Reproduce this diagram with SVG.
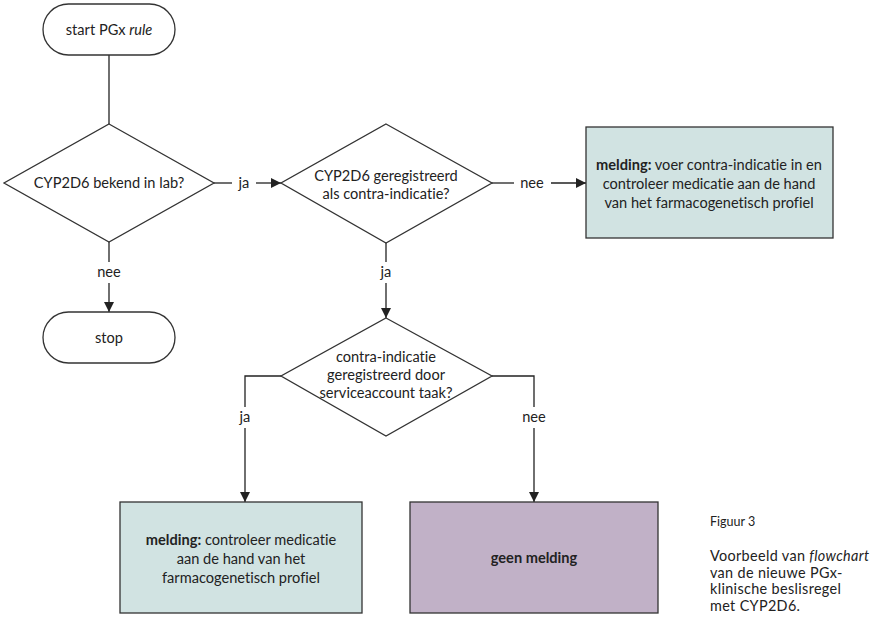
<svg xmlns="http://www.w3.org/2000/svg" width="883" height="621" viewBox="0 0 883 621">
<defs>
<marker id="arr" viewBox="0 0 10 10" refX="10" refY="5" markerWidth="10" markerHeight="10" markerUnits="userSpaceOnUse" orient="auto">
<path d="M0,0 L10,5 L0,10 Z" fill="#222"/>
</marker>
</defs>
<style>
text{font-family:"Lato","Noto Sans",sans-serif;font-size:14.6px;fill:#222;text-anchor:middle;font-variant-ligatures:none;}
.shape{fill:#fff;stroke:#333;stroke-width:1.3;}
.green{fill:#d1e3e2;stroke:#333;stroke-width:1.3;}
.purple{fill:#c1b1c7;stroke:#333;stroke-width:1.3;}
.line{fill:none;stroke:#222;stroke-width:1.3;}
.cap{text-anchor:start;font-size:14.4px;letter-spacing:0.35px;}
</style>
<rect width="883" height="621" fill="#fff"/>
<g id="connectors">
<line class="line" x1="109" y1="55" x2="109" y2="124"/>
<line class="line" x1="214" y1="183" x2="232" y2="183"/>
<text x="244" y="188">ja</text>
<line class="line" x1="256" y1="183" x2="281" y2="183" marker-end="url(#arr)"/>
<line class="line" x1="492" y1="183" x2="514" y2="183"/>
<text x="532" y="188">nee</text>
<line class="line" x1="551" y1="183" x2="586" y2="183" marker-end="url(#arr)"/>
<line class="line" x1="109" y1="242" x2="109" y2="262"/>
<text x="109" y="277">nee</text>
<line class="line" x1="109" y1="283" x2="109" y2="312" marker-end="url(#arr)"/>
<line class="line" x1="386" y1="243" x2="386" y2="262"/>
<text x="386" y="277">ja</text>
<line class="line" x1="386" y1="283" x2="386" y2="318" marker-end="url(#arr)"/>
<polyline class="line" points="281,376 245,376 245,407"/>
<text x="245" y="422">ja</text>
<line class="line" x1="245" y1="428" x2="245" y2="502" marker-end="url(#arr)"/>
<polyline class="line" points="492,376 534,376 534,407"/>
<text x="534" y="422">nee</text>
<line class="line" x1="534" y1="428" x2="534" y2="502" marker-end="url(#arr)"/>
</g>
<g id="start">
<rect class="shape" x="43" y="4" width="132" height="51" rx="25.5"/>
<text x="109" y="35">start PGx <tspan font-style="italic">rule</tspan></text>
</g>
<g id="d1">
<polygon class="shape" points="109,124 214,183 109,242 4,183"/>
<text x="109" y="188">CYP2D6 bekend in lab?</text>
</g>
<g id="d2">
<polygon class="shape" points="386,124 492,183 386,243 281,183"/>
<text x="386" y="181">CYP2D6 geregistreerd</text>
<text x="386" y="199">als contra-indicatie?</text>
</g>
<g id="box1">
<rect class="green" x="586" y="127" width="247" height="111"/>
<text x="709" y="170"><tspan font-weight="bold">melding:</tspan> voer contra-indicatie in en</text>
<text x="709" y="189">controleer medicatie aan de hand</text>
<text x="709" y="208">van het farmacogenetisch profiel</text>
</g>
<g id="stop">
<rect class="shape" x="43" y="312" width="132" height="51" rx="25.5"/>
<text x="109" y="343">stop</text>
</g>
<g id="d3">
<polygon class="shape" points="386,318 492,376 386,436 281,376"/>
<text x="386" y="362">contra-indicatie</text>
<text x="386" y="380">geregistreerd door</text>
<text x="386" y="398">serviceaccount taak?</text>
</g>
<g id="box2">
<rect class="green" x="120" y="502" width="242" height="111"/>
<text x="241" y="545"><tspan font-weight="bold">melding:</tspan> controleer medicatie</text>
<text x="241" y="564">aan de hand van het</text>
<text x="241" y="583">farmacogenetisch profiel</text>
</g>
<g id="box3">
<rect class="purple" x="410" y="502" width="248" height="111"/>
<text x="534" y="563" font-weight="bold">geen melding</text>
</g>
<g id="caption">
<text class="cap" x="710" y="526" style="font-size:12.5px;letter-spacing:0">Figuur 3</text>
<text class="cap" x="710" y="561">Voorbeeld van <tspan font-style="italic">flowchart</tspan></text>
<text class="cap" x="710" y="577.5">van de nieuwe PGx-</text>
<text class="cap" x="710" y="594">klinische beslisregel</text>
<text class="cap" x="710" y="610.5">met CYP2D6.</text>
</g>
</svg>
